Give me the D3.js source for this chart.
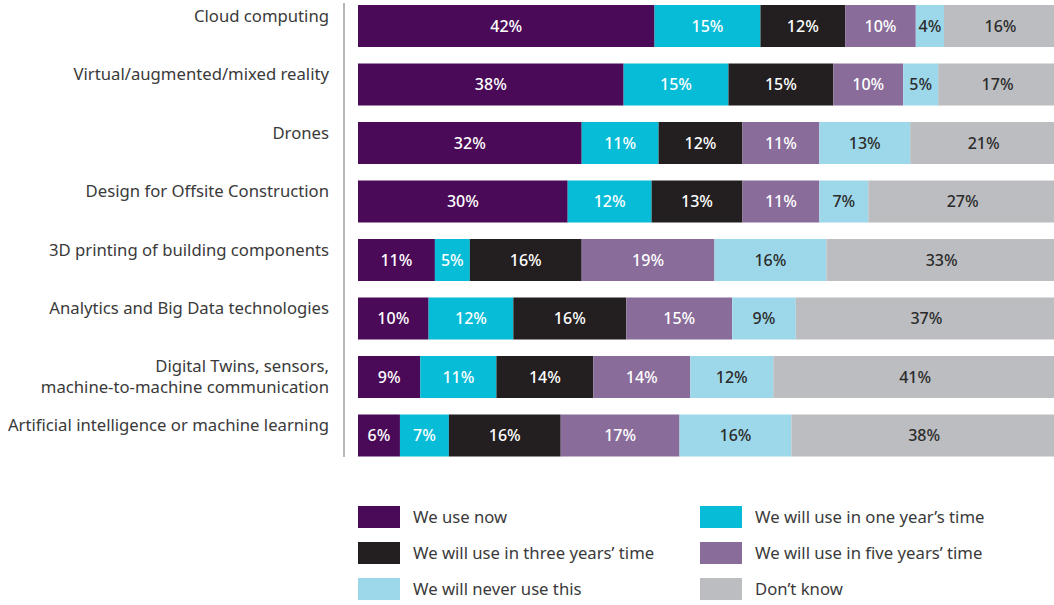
<!DOCTYPE html>
<html>
<head>
<meta charset="utf-8">
<script src="https://cdn.jsdelivr.net/npm/d3@7"></script>
<style>
  html, body { margin: 0; padding: 0; background: #fff; }
  svg { display: block; }
</style>
</head>
<body>
<svg id="chart" width="1054" height="605"></svg>
<script>
// Technologies surveyed, top to bottom
const categories = [
  ["Cloud computing"],
  ["Virtual/augmented/mixed reality"],
  ["Drones"],
  ["Design for Offsite Construction"],
  ["3D printing of building components"],
  ["Analytics and Big Data technologies"],
  ["Digital Twins, sensors,", "machine-to-machine communication"],
  ["Artificial intelligence or machine learning"]
];

// Response options (stack order)
const responses = [
  "We use now",
  "We will use in one year\u2019s time",
  "We will use in three years\u2019 time",
  "We will use in five years\u2019 time",
  "We will never use this",
  "Don\u2019t know"
];

// Percentages per response, one value per technology
const useNow      = [42, 38, 32, 30, 11, 10,  9,  6];
const oneYear     = [15, 15, 11, 12,  5, 12, 11,  7];
const threeYears  = [12, 15, 12, 13, 16, 16, 14, 16];
const fiveYears   = [10, 10, 11, 11, 19, 15, 14, 17];
const neverUse    = [ 4,  5, 13,  7, 16,  9, 12, 16];
const dontKnow    = [16, 17, 21, 27, 33, 37, 41, 38];

const colors = ["#4a0a57", "#06bcd6", "#231f20", "#8a6c9a", "#9dd8ea", "#bcbdc0"];
const textColors = ["#ffffff", "#ffffff", "#ffffff", "#ffffff", "#2b2b2b", "#2b2b2b"];

const seriesValues = [useNow, oneYear, threeYears, fiveYears, neverUse, dontKnow];

const rows = categories.map((lines, i) => {
  const row = { key: i, lines };
  responses.forEach((r, j) => { row[r] = seriesValues[j][i]; });
  row.total = d3.sum(seriesValues, s => s[i]);
  return row;
});

// Each bar is scaled to its own total so every row spans the full width
const normalized = rows.map(r => {
  const o = { key: r.key };
  responses.forEach(k => { o[k] = r[k] / r.total; });
  return o;
});

const svg = d3.select("#chart");
const fontFamily = "'Noto Sans', 'Open Sans', sans-serif";
const textSize = 16.7;

const x = d3.scaleLinear().domain([0, 1]).range([358, 1057]);
const y = d3.scaleBand()
  .domain(rows.map(r => r.key))
  .range([5, 456.5])
  .paddingInner(0.282)
  .paddingOuter(0);

const stack = d3.stack().keys(responses);
const layers = stack(normalized);

const g = svg.append("g");

layers.forEach((layer, li) => {
  const lg = g.append("g");
  lg.selectAll("rect")
    .data(layer)
    .join("rect")
    .attr("x", d => x(d[0]))
    .attr("y", (d, i) => y(rows[i].key))
    .attr("width", d => x(d[1]) - x(d[0]))
    .attr("height", y.bandwidth())
    .attr("fill", colors[li]);

  lg.selectAll("text")
    .data(layer)
    .join("text")
    .attr("x", d => (x(d[0]) + x(d[1])) / 2)
    .attr("y", (d, i) => y(rows[i].key) + y.bandwidth() / 2)
    .attr("dy", "0.36em")
    .attr("text-anchor", "middle")
    .attr("font-family", fontFamily)
    .attr("font-size", 16)
    .attr("font-weight", 500)
    .attr("fill", textColors[li])
    .text((d, i) => rows[i][responses[li]] + "%");
});

// Vertical axis line
svg.append("line")
  .attr("x1", 344).attr("x2", 344)
  .attr("y1", 3).attr("y2", 457)
  .attr("stroke", "#a0a0a0")
  .attr("stroke-width", 1.5);

// Category labels
const labels = svg.append("g");
rows.forEach(r => {
  const cy = y(r.key) + y.bandwidth() / 2;
  const n = r.lines.length;
  const lineH = 21;
  const startY = n === 1 ? cy - 10 : cy - lineH * (n - 1) / 2;
  const t = labels.append("text")
    .attr("text-anchor", "end")
    .attr("font-family", fontFamily)
    .attr("font-size", textSize)
    .attr("fill", "#3a3a3a");
  r.lines.forEach((line, k) => {
    t.append("tspan")
      .attr("x", 329)
      .attr("y", startY + k * lineH)
      .attr("dy", "0.35em")
      .text(line);
  });
});

// Legend (two columns, three rows)
const legend = svg.append("g");
responses.forEach((name, idx) => {
  const col = idx % 2;
  const row = Math.floor(idx / 2);
  const lx = col === 0 ? 358 : 700;
  const ly = 506 + row * 36;
  legend.append("rect")
    .attr("x", lx).attr("y", ly)
    .attr("width", 42).attr("height", 22)
    .attr("fill", colors[idx]);
  legend.append("text")
    .attr("x", lx + 55)
    .attr("y", ly + 11)
    .attr("dy", "0.35em")
    .attr("font-family", fontFamily)
    .attr("font-size", textSize)
    .attr("fill", "#3a3a3a")
    .text(name);
});
</script>
</body>
</html>
